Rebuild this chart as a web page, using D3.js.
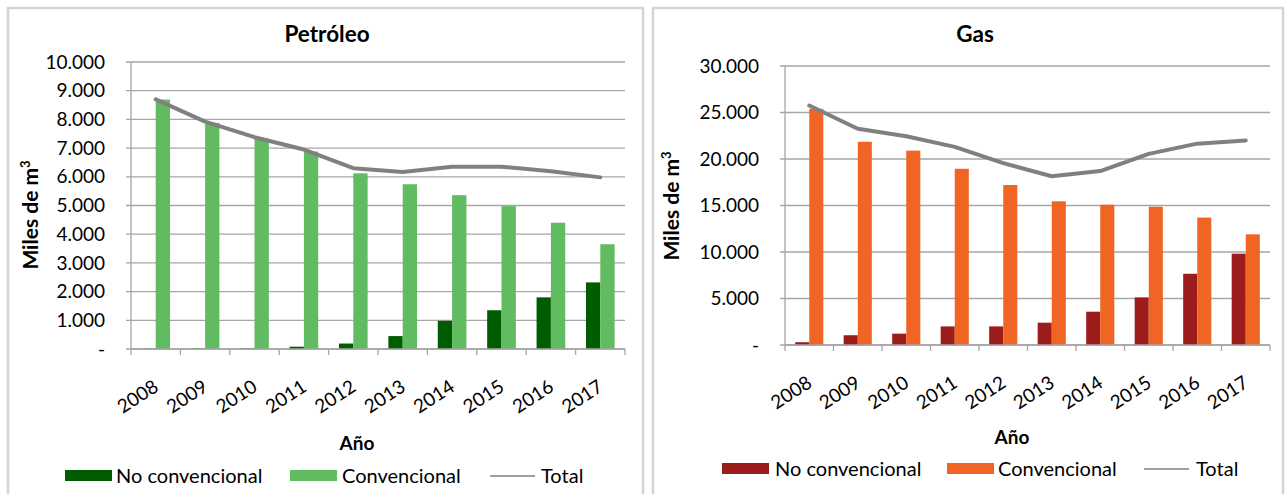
<!DOCTYPE html>
<html>
<head>
<meta charset="utf-8">
<script src="https://cdn.jsdelivr.net/npm/d3@7"></script>
<style>
  html, body { margin: 0; padding: 0; background: #ffffff; }
  svg { display: block; font-family: Lato, "Open Sans", sans-serif; }
</style>
</head>
<body>
<svg id="chart" width="1286" height="494"></svg>
<script>
// ---------- DATA ----------
const years = ["2008", "2009", "2010", "2011", "2012", "2013", "2014", "2015", "2016", "2017"];

const petroleoNoConvencional = [10, 15, 20, 80, 190, 450, 980, 1350, 1800, 2320];
const petroleoConvencional   = [8690, 7880, 7330, 6880, 6120, 5740, 5360, 4980, 4400, 3650];
const petroleoTotal          = [8700, 7920, 7380, 6950, 6300, 6170, 6350, 6350, 6190, 5980];
const petroleoTicks      = [0, 1000, 2000, 3000, 4000, 5000, 6000, 7000, 8000, 9000, 10000];
const petroleoTickLabels = ["-", "1.000", "2.000", "3.000", "4.000", "5.000", "6.000", "7.000", "8.000", "9.000", "10.000"];

const gasNoConvencional = [300, 1050, 1220, 2000, 2000, 2400, 3580, 5120, 7660, 9820];
const gasConvencional   = [25400, 21850, 20900, 18950, 17200, 15450, 15080, 14870, 13700, 11900];
const gasTotal          = [25750, 23250, 22450, 21300, 19550, 18150, 18700, 20550, 21650, 22000];
const gasTicks      = [0, 5000, 10000, 15000, 20000, 25000, 30000];
const gasTickLabels = ["-", "5.000", "10.000", "15.000", "20.000", "25.000", "30.000"];

const seriesNames = ["No convencional", "Convencional", "Total"];

// ---------- DRAW ----------
const svg = d3.select("#chart");
const GRID = "#a6a6a6";
const LINE = "#808080";

function drawPanel(cfg) {
  const g = svg.append("g");

  // panel border
  g.append("rect")
    .attr("x", cfg.panel[0]).attr("y", cfg.panel[1])
    .attr("width", cfg.panel[2]).attr("height", cfg.panel[3])
    .attr("fill", "#fff").attr("stroke", "#d4d4d4").attr("stroke-width", 2.5);

  const x = d3.scaleBand().domain(years).range([cfg.x0, cfg.x1]).padding(0);
  const y = d3.scaleLinear().domain([0, cfg.max]).range([cfg.yBottom, cfg.yTop]);

  // gridlines
  g.append("g").selectAll("line").data(cfg.ticks).join("line")
    .attr("x1", cfg.x0 - 5).attr("x2", cfg.x1)
    .attr("y1", d => y(d)).attr("y2", d => y(d))
    .attr("stroke", GRID).attr("stroke-width", 1.3);

  // y axis line
  g.append("line")
    .attr("x1", cfg.x0).attr("x2", cfg.x0)
    .attr("y1", y(cfg.max)).attr("y2", y(0))
    .attr("stroke", GRID).attr("stroke-width", 1.3);

  // y tick labels
  g.append("g").selectAll("text").data(cfg.ticks).join("text")
    .attr("x", cfg.x0 - 26).attr("y", d => y(d))
    .attr("dy", "0.35em")
    .attr("text-anchor", "end")
    .attr("font-size", 19).attr("fill", "#000")
    .text((d, i) => cfg.tickLabels[i]);

  // x tick marks at category boundaries
  const bounds = years.map(d => x(d)).concat([cfg.x1]);
  g.append("g").selectAll("line").data(bounds).join("line")
    .attr("x1", d => d).attr("x2", d => d)
    .attr("y1", y(0)).attr("y2", y(0) + 6)
    .attr("stroke", GRID).attr("stroke-width", 1.3);

  // bars
  const bw = x.bandwidth() * 0.29;
  const bars = g.append("g");
  bars.selectAll("rect.nc").data(years).join("rect")
    .attr("class", "nc")
    .attr("x", d => x(d) + x.bandwidth() / 2 - bw)
    .attr("width", bw)
    .attr("y", (d, i) => y(cfg.noConv[i]))
    .attr("height", (d, i) => y(0) - y(cfg.noConv[i]))
    .attr("fill", cfg.colNoConv);
  bars.selectAll("rect.c").data(years).join("rect")
    .attr("class", "c")
    .attr("x", d => x(d) + x.bandwidth() / 2)
    .attr("width", bw)
    .attr("y", (d, i) => y(cfg.conv[i]))
    .attr("height", (d, i) => y(0) - y(cfg.conv[i]))
    .attr("fill", cfg.colConv);

  // x axis line (drawn over bars)
  g.append("line")
    .attr("x1", cfg.x0).attr("x2", cfg.x1)
    .attr("y1", y(0)).attr("y2", y(0))
    .attr("stroke", GRID).attr("stroke-width", 1.3);

  // total line
  const line = d3.line()
    .x((d, i) => x(years[i]) + x.bandwidth() / 2)
    .y(d => y(d));
  g.append("path")
    .datum(cfg.total)
    .attr("d", line)
    .attr("fill", "none")
    .attr("stroke", LINE)
    .attr("stroke-width", 4)
    .attr("stroke-linejoin", "round")
    .attr("stroke-linecap", "round");

  // x tick labels, rotated
  g.append("g").selectAll("text").data(years).join("text")
    .attr("transform", d => `translate(${x(d) + x.bandwidth() / 2 + 4},${y(0) + 41}) rotate(-33)`)
    .attr("text-anchor", "end")
    .attr("font-size", 19).attr("fill", "#000")
    .text(d => d);

  // title
  g.append("text")
    .attr("x", cfg.titleX).attr("y", 42)
    .attr("text-anchor", "middle")
    .attr("font-size", 22.5).attr("font-weight", "bold")
    .text(cfg.title);

  // x axis title
  g.append("text")
    .attr("x", cfg.aX).attr("y", cfg.aY)
    .attr("text-anchor", "middle")
    .attr("font-size", 19).attr("font-weight", "bold")
    .text("Año");

  // y axis title
  const yt = g.append("text")
    .attr("transform", `translate(${cfg.ytX},${cfg.ytY}) rotate(-90)`)
    .attr("text-anchor", "middle")
    .attr("font-size", 21).attr("font-weight", "bold");
  yt.append("tspan").text("Miles de m");
  yt.append("tspan").attr("font-size", 13).attr("dy", -8).text("3");

  // legend
  const L = cfg.legend;
  const lg = g.append("g");
  lg.append("rect").attr("x", L.s1).attr("y", L.y - 6).attr("width", 47).attr("height", 11).attr("fill", cfg.colNoConv);
  lg.append("text").attr("x", L.t1).attr("y", L.y + 7).attr("font-size", 20).text(seriesNames[0]);
  lg.append("rect").attr("x", L.s2).attr("y", L.y - 6).attr("width", 47).attr("height", 11).attr("fill", cfg.colConv);
  lg.append("text").attr("x", L.t2).attr("y", L.y + 7).attr("font-size", 20).text(seriesNames[1]);
  lg.append("line").attr("x1", L.s3).attr("x2", L.s3 + 45).attr("y1", L.y).attr("y2", L.y)
    .attr("stroke", LINE).attr("stroke-width", 1.6);
  lg.append("text").attr("x", L.t3).attr("y", L.y + 7).attr("font-size", 20).text(seriesNames[2]);
}

drawPanel({
  panel: [8, 8, 635, 500],
  x0: 131, x1: 625, yTop: 62, yBottom: 349, max: 10000,
  ticks: petroleoTicks, tickLabels: petroleoTickLabels,
  noConv: petroleoNoConvencional, conv: petroleoConvencional, total: petroleoTotal,
  colNoConv: "#005c00", colConv: "#61bb61",
  title: "Petróleo", titleX: 327,
  aX: 357, aY: 450,
  ytX: 38, ytY: 215,
  legend: { y: 476, s1: 65, t1: 116, s2: 290, t2: 342, s3: 490, t3: 541 }
});

drawPanel({
  panel: [653, 8, 630, 500],
  x0: 785, x1: 1270, yTop: 66, yBottom: 345, max: 30000,
  ticks: gasTicks, tickLabels: gasTickLabels,
  noConv: gasNoConvencional, conv: gasConvencional, total: gasTotal,
  colNoConv: "#9c1c1c", colConv: "#f06424",
  title: "Gas", titleX: 975,
  aX: 1012, aY: 444,
  ytX: 679, ytY: 206,
  legend: { y: 469, s1: 722, t1: 775, s2: 947, t2: 998, s3: 1144, t3: 1196 }
});
</script>
</body>
</html>
